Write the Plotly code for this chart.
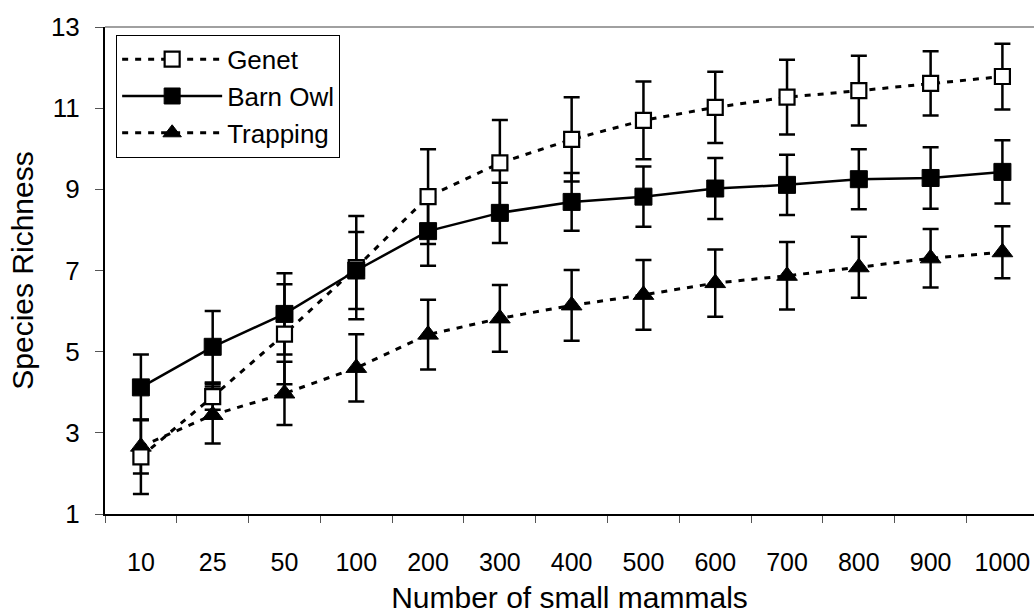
import plotly.graph_objects as go

x_labels = ["10", "25", "50", "100", "200", "300", "400", "500", "600", "700", "800", "900", "1000"]

genet = [2.41, 3.89, 5.43, 7.07, 8.82, 9.65, 10.23, 10.70, 11.02, 11.27, 11.43, 11.61, 11.78]
genet_err = [0.92, 0.32, 1.23, 1.27, 1.17, 1.06, 1.04, 0.96, 0.88, 0.92, 0.86, 0.79, 0.81]

barn_owl = [4.12, 5.12, 5.93, 7.00, 7.97, 8.42, 8.69, 8.82, 9.02, 9.11, 9.25, 9.28, 9.43]
barn_owl_err = [0.81, 0.88, 1.00, 0.95, 0.85, 0.74, 0.71, 0.74, 0.75, 0.74, 0.74, 0.76, 0.78]

trapping = [2.66, 3.44, 3.97, 4.60, 5.42, 5.82, 6.14, 6.40, 6.69, 6.87, 7.08, 7.30, 7.45]
trapping_err = [0.66, 0.70, 0.78, 0.83, 0.86, 0.82, 0.87, 0.86, 0.83, 0.83, 0.75, 0.72, 0.64]

y_ticks = [1, 3, 5, 7, 9, 11, 13]

FONT = "Liberation Sans, Arial, sans-serif"
DASH = "6px,7px"

fig = go.Figure()

# error bars first (beneath all markers)
for vals, errs in [(trapping, trapping_err), (genet, genet_err), (barn_owl, barn_owl_err)]:
    fig.add_trace(go.Scatter(
        x=x_labels, y=vals, mode="markers",
        marker=dict(size=1, color="rgba(0,0,0,0)"),
        error_y=dict(type="data", array=errs, visible=True, color="black",
                     thickness=2.5, width=8),
        showlegend=False, hoverinfo="skip",
    ))

fig.add_trace(go.Scatter(
    x=x_labels, y=trapping, name="Trapping", mode="lines+markers",
    line=dict(color="black", width=3, dash=DASH),
    marker=dict(symbol="triangle-up", size=18, color="black",
                line=dict(color="black", width=1)),
    legendrank=3,
))
fig.add_trace(go.Scatter(
    x=x_labels, y=genet, name="Genet", mode="lines+markers",
    line=dict(color="black", width=3, dash=DASH),
    marker=dict(symbol="square", size=15, color="white",
                line=dict(color="black", width=2.2)),
    legendrank=1,
))
fig.add_trace(go.Scatter(
    x=x_labels, y=barn_owl, name="Barn Owl", mode="lines+markers",
    line=dict(color="black", width=2.5),
    marker=dict(symbol="square", size=17, color="black",
                line=dict(color="black", width=1)),
    legendrank=2,
))

fig.update_layout(
    width=1034, height=614,
    margin=dict(l=105, r=0, t=27, b=100),
    paper_bgcolor="white", plot_bgcolor="white",
    font=dict(family=FONT, size=26, color="black"),
    showlegend=True,
    legend=dict(
        x=0.012, y=0.984, xanchor="left", yanchor="top",
        bgcolor="white", bordercolor="black", borderwidth=1,
        font=dict(family=FONT, size=26, color="black"),
        itemwidth=100, tracegroupgap=0,
    ),
    xaxis=dict(
        type="category",
        range=[-0.5, 12.44],
        tickson="boundaries",
        ticks="outside", ticklen=7, tickwidth=1, tickcolor="#555555",
        showline=True, linecolor="black", linewidth=2,
        showgrid=False, zeroline=False,
        tickfont=dict(family=FONT, size=25, color="black"),
        ticklabelstandoff=25,
        title=dict(text="Number of small mammals", standoff=14,
                   font=dict(family=FONT, size=30, color="black")),
    ),
    yaxis=dict(
        range=[1, 13],
        tickvals=y_ticks,
        ticks="outside", ticklen=8, tickwidth=1, tickcolor="#555555",
        showline=True, linecolor="black", linewidth=2,
        showgrid=False, zeroline=False,
        tickfont=dict(family=FONT, size=26, color="black"),
        ticklabelstandoff=10,
        title=dict(text="Species Richness", standoff=8,
                   font=dict(family=FONT, size=30, color="black")),
    ),
    shapes=[dict(type="line", xref="paper", yref="paper", x0=0, x1=1, y0=1, y1=1,
                 line=dict(color="#808080", width=1.5))],
)

fig.write_html("out.html")
